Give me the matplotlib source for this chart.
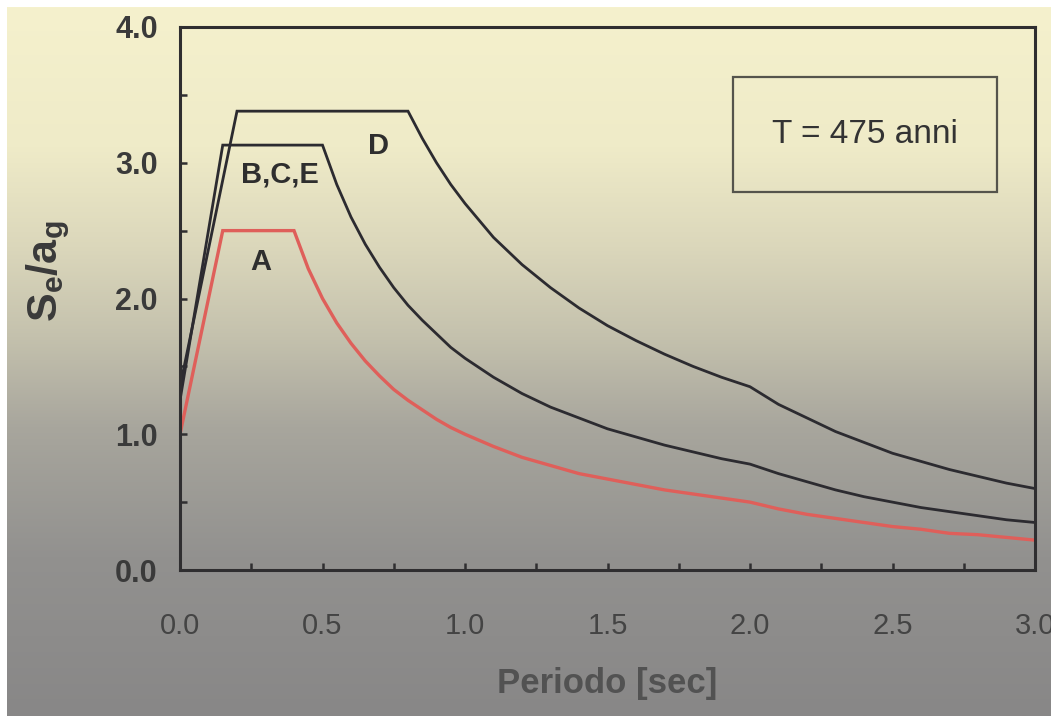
import matplotlib
matplotlib.use("Agg")
import matplotlib.pyplot as plt
from matplotlib.patches import Rectangle
from matplotlib.ticker import MultipleLocator, FormatStrFormatter
import numpy as np

plt.rcParams['font.family'] = ['Liberation Sans', 'DejaVu Sans']
plt.rcParams['mathtext.fontset'] = 'custom'
plt.rcParams['mathtext.rm'] = 'Liberation Sans'
plt.rcParams['mathtext.bf'] = 'Liberation Sans:bold'

# elastic response spectra, return period 475 years
T_A = [0.0, 0.15, 0.40, 0.45, 0.50, 0.55, 0.60, 0.65, 0.70, 0.75, 0.80, 0.85,
       0.90, 0.95, 1.00, 1.10, 1.20, 1.30, 1.40, 1.50, 1.60, 1.70, 1.80, 1.90,
       2.00, 2.10, 2.20, 2.30, 2.40, 2.50, 2.60, 2.70, 2.80, 2.90, 3.00]
Se_A = [1.00, 2.50, 2.50, 2.22, 2.00, 1.82, 1.67, 1.54, 1.43, 1.33, 1.25, 1.18,
        1.11, 1.05, 1.00, 0.91, 0.83, 0.77, 0.71, 0.67, 0.63, 0.59, 0.56, 0.53,
        0.50, 0.45, 0.41, 0.38, 0.35, 0.32, 0.30, 0.27, 0.26, 0.24, 0.22]

T_BCE = [0.0, 0.15, 0.50, 0.55, 0.60, 0.65, 0.70, 0.75, 0.80, 0.85, 0.90, 0.95,
         1.00, 1.10, 1.20, 1.30, 1.40, 1.50, 1.60, 1.70, 1.80, 1.90, 2.00,
         2.10, 2.20, 2.30, 2.40, 2.50, 2.60, 2.70, 2.80, 2.90, 3.00]
Se_BCE = [1.25, 3.13, 3.13, 2.84, 2.60, 2.40, 2.23, 2.08, 1.95, 1.84, 1.74, 1.64,
          1.56, 1.42, 1.30, 1.20, 1.12, 1.04, 0.98, 0.92, 0.87, 0.82, 0.78,
          0.71, 0.65, 0.59, 0.54, 0.50, 0.46, 0.43, 0.40, 0.37, 0.35]

T_D = [0.0, 0.20, 0.80, 0.85, 0.90, 0.95, 1.00, 1.10, 1.20, 1.30, 1.40, 1.50,
       1.60, 1.70, 1.80, 1.90, 2.00, 2.10, 2.20, 2.30, 2.40, 2.50, 2.60, 2.70,
       2.80, 2.90, 3.00]
Se_D = [1.35, 3.38, 3.38, 3.18, 3.00, 2.84, 2.70, 2.45, 2.25, 2.08, 1.93, 1.80,
        1.69, 1.59, 1.50, 1.42, 1.35, 1.22, 1.12, 1.02, 0.94, 0.86, 0.80, 0.74,
        0.69, 0.64, 0.60]

curve_labels = ['A', 'B,C,E', 'D']
label_pos = [(0.284, 2.27), (0.351, 2.91), (0.698, 3.12)]
return_period = 'T = 475 anni'

W, H, DPI = 1051, 716, 100
fig = plt.figure(figsize=(W / DPI, H / DPI), dpi=DPI, facecolor='white')

# paper background: cream at the top fading to grey at the bottom
bg = fig.add_axes([7 / W, 0, 1 - 7 / W, 1 - 7 / H], zorder=0)
stops_y = np.array([0, 140, 240, 330, 420, 550, 709]) / 709
stops_c = np.array([[245, 241, 205], [239, 235, 200], [219, 215, 187],
                    [196, 193, 173], [168, 166, 157], [146, 145, 143],
                    [136, 135, 135]]) / 255
yy = np.linspace(0, 1, 400)
grad = np.stack([np.interp(yy, stops_y, stops_c[:, k]) for k in range(3)], axis=1)
bg.imshow(grad[:, None, :], aspect='auto', extent=[0, 1, 0, 1], origin='upper')
bg.set_axis_off()

ax = fig.add_axes([180 / W, (H - 570) / H, 855 / W, 543 / H], zorder=1)
ax.patch.set_alpha(0)

dark = '#2c2b30'
ax.plot(T_D, Se_D, color=dark, lw=2.0, solid_joinstyle='miter')
ax.plot(T_BCE, Se_BCE, color=dark, lw=2.0, solid_joinstyle='miter')
ax.plot(T_A, Se_A, color='#df5f5a', lw=2.4, solid_joinstyle='miter')

for lab, (x, y) in zip(curve_labels, label_pos):
    ax.text(x, y, lab, fontsize=21, fontweight='bold', color='#2e2e2e',
            ha='center', va='center')

ax.add_patch(Rectangle((0.647, 0.696), 0.309, 0.212, transform=ax.transAxes,
                       fill=False, lw=1.6, edgecolor='#55544c'))
ax.text(0.801, 0.802, return_period, transform=ax.transAxes, fontsize=24,
        color='#333333', ha='center', va='center')

ax.set_xlim(0, 3.0)
ax.set_ylim(0, 4.0)
ax.xaxis.set_major_locator(MultipleLocator(0.5))
ax.xaxis.set_minor_locator(MultipleLocator(0.25))
ax.yaxis.set_major_locator(MultipleLocator(1.0))
ax.yaxis.set_minor_locator(MultipleLocator(0.5))
ax.xaxis.set_major_formatter(FormatStrFormatter('%.1f'))
ax.yaxis.set_major_formatter(FormatStrFormatter('%.1f'))

for s in ax.spines.values():
    s.set_linewidth(2.2)
    s.set_color('#2f2e30')
ax.tick_params(which='both', direction='in', length=5, width=1.8,
               color='#2f2e30', top=False, right=False)
ax.tick_params(axis='y', which='major', pad=16, labelsize=22,
               labelcolor='#3a3a3a')
ax.tick_params(axis='x', which='major', pad=30, labelsize=21,
               labelcolor='#444444')
for t in ax.get_yticklabels():
    t.set_fontweight('bold')

ax.set_xlabel('Periodo [sec]', fontsize=25, fontweight='bold',
              color='#525252', labelpad=20)
ax.set_ylabel(r'$\mathbf{S_e/a_g}$', fontsize=31, color='#3a3a3a')
ax.yaxis.set_label_coords(-0.126, 0.55)

fig.savefig('out.png', dpi=DPI, facecolor='white')
